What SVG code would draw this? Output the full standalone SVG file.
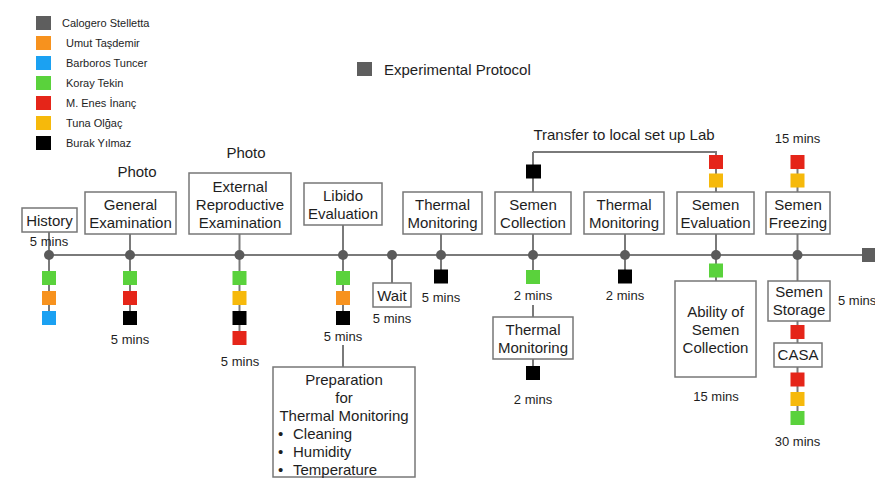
<svg xmlns="http://www.w3.org/2000/svg" width="875" height="479" viewBox="0 0 875 479">
<style>
text{font-family:"Liberation Sans",Arial,Helvetica,sans-serif;fill:#1e1e1e}
.t{font-size:15px;text-anchor:middle}
.m{font-size:13px;text-anchor:middle}
.l{font-size:11px}
.b{fill:#fff;stroke:#777;stroke-width:1.5}
.c{stroke:#7a7a7a;stroke-width:2;fill:none}
.d{fill:#5a5a5a}
.gy{fill:#5e5e5e}.or{fill:#f7921e}.bl{fill:#1ba1f2}.gr{fill:#5ad23c}.rd{fill:#e52519}.yl{fill:#f6b90b}.bk{fill:#000}
</style>
<rect width="875" height="479" fill="#fff"/>
<g id="legend">
<rect class="gy" x="36" y="16" width="15" height="14"/><text class="l" x="62" y="27">Calogero Stelletta</text>
<rect class="or" x="36" y="36" width="15" height="14"/><text class="l" x="66" y="47">Umut Taşdemir</text>
<rect class="bl" x="36" y="56" width="15" height="14"/><text class="l" x="66" y="67">Barboros Tuncer</text>
<rect class="gr" x="36" y="76" width="15" height="14"/><text class="l" x="66" y="87">Koray Tekin</text>
<rect class="rd" x="36" y="96" width="15" height="14"/><text class="l" x="66" y="107">M. Enes İnanç</text>
<rect class="yl" x="36" y="116" width="15" height="14"/><text class="l" x="66" y="127">Tuna Olğaç</text>
<rect class="bk" x="36" y="136" width="15" height="14"/><text class="l" x="66" y="147">Burak Yılmaz</text>
</g>
<g id="title">
<rect class="gy" x="357" y="62" width="15" height="14"/>
<text x="384" y="75" style="font-size:15px">Experimental Protocol</text>
</g>
<g id="connectors">
<line class="c" x1="49" y1="255" x2="862" y2="255"/>
<line class="c" x1="49" y1="232" x2="49" y2="255"/>
<line class="c" x1="49" y1="255" x2="49" y2="318"/>
<line class="c" x1="130" y1="234" x2="130" y2="318"/>
<line class="c" x1="239.5" y1="234" x2="239.5" y2="338"/>
<line class="c" x1="343" y1="225" x2="343" y2="318"/>
<line class="c" x1="343" y1="345" x2="343" y2="367"/>
<line class="c" x1="392" y1="255" x2="392" y2="283"/>
<line class="c" x1="441" y1="234" x2="441" y2="276"/>
<line class="c" x1="533" y1="152" x2="533" y2="192"/>
<polyline class="c" points="533,152 716,152 716,192"/>
<line class="c" x1="533" y1="234" x2="533" y2="276"/>
<line class="c" x1="533" y1="305" x2="533" y2="317"/>
<line class="c" x1="533" y1="359" x2="533" y2="372"/>
<line class="c" x1="625" y1="234" x2="625" y2="276"/>
<line class="c" x1="716" y1="234" x2="716" y2="281"/>
<line class="c" x1="797.5" y1="162" x2="797.5" y2="192"/>
<line class="c" x1="797.5" y1="234" x2="797.5" y2="281"/>
<line class="c" x1="797.5" y1="321" x2="797.5" y2="343"/>
<line class="c" x1="797.5" y1="367" x2="797.5" y2="418"/>
<circle class="d" cx="49" cy="255" r="5"/>
<circle class="d" cx="130" cy="255" r="5"/>
<circle class="d" cx="239.5" cy="255" r="5"/>
<circle class="d" cx="343" cy="255" r="5"/>
<circle class="d" cx="392" cy="255" r="5"/>
<circle class="d" cx="441" cy="255" r="5"/>
<circle class="d" cx="533" cy="255" r="5"/>
<circle class="d" cx="625" cy="255" r="5"/>
<circle class="d" cx="716" cy="255" r="5"/>
<circle class="d" cx="797.5" cy="255" r="5"/>
<rect class="gy" x="862" y="248" width="14" height="14"/>
</g>
<g id="history">
<rect class="b" x="22" y="208" width="55" height="24"/>
<text class="t" x="49.5" y="225.5">History</text>
<text class="m" x="49" y="245.5">5 mins</text>
<rect class="gr" x="42" y="271" width="14" height="14"/>
<rect class="or" x="42" y="291" width="14" height="14"/>
<rect class="bl" x="42" y="311" width="14" height="14"/>
</g>
<g id="general-examination">
<text class="t" x="137" y="177">Photo</text>
<rect class="b" x="85" y="192" width="91" height="42"/>
<text class="t" x="130.5" y="210">General</text>
<text class="t" x="130.5" y="227.5">Examination</text>
<rect class="gr" x="123" y="271" width="14" height="14"/>
<rect class="rd" x="123" y="291" width="14" height="14"/>
<rect class="bk" x="123" y="311" width="14" height="14"/>
<text class="m" x="130" y="343.5">5 mins</text>
</g>
<g id="external-reproductive-examination">
<text class="t" x="246" y="158">Photo</text>
<rect class="b" x="189" y="173" width="102" height="61"/>
<text class="t" x="240" y="192">External</text>
<text class="t" x="240" y="210">Reproductive</text>
<text class="t" x="240" y="227.5">Examination</text>
<rect class="gr" x="232.5" y="271" width="14" height="14"/>
<rect class="yl" x="232.5" y="291" width="14" height="14"/>
<rect class="bk" x="232.5" y="311" width="14" height="14"/>
<rect class="rd" x="232.5" y="331" width="14" height="14"/>
<text class="m" x="240" y="366">5 mins</text>
</g>
<g id="libido-evaluation">
<rect class="b" x="304" y="183" width="78" height="42"/>
<text class="t" x="343" y="201">Libido</text>
<text class="t" x="343" y="218.5">Evaluation</text>
<rect class="gr" x="336" y="271" width="14" height="14"/>
<rect class="or" x="336" y="291" width="14" height="14"/>
<rect class="bk" x="336" y="311" width="14" height="14"/>
<text class="m" x="343" y="340.5">5 mins</text>
</g>
<g id="preparation">
<rect class="b" x="273" y="367" width="142" height="110"/>
<text class="t" x="344" y="385">Preparation</text>
<text class="t" x="344" y="403">for</text>
<text class="t" x="344" y="421">Thermal Monitoring</text>
<text x="278" y="439" style="font-size:15px">•</text><text x="293" y="439" style="font-size:15px">Cleaning</text>
<text x="278" y="457" style="font-size:15px">•</text><text x="293" y="457" style="font-size:15px">Humidity</text>
<text x="278" y="474.5" style="font-size:15px">•</text><text x="293" y="474.5" style="font-size:15px">Temperature</text>
</g>
<g id="wait">
<rect class="b" x="373" y="283" width="38" height="24"/>
<text class="t" x="392" y="300.5">Wait</text>
<text class="m" x="392" y="323">5 mins</text>
</g>
<g id="thermal-monitoring-1">
<rect class="b" x="403" y="192" width="79" height="42"/>
<text class="t" x="442.5" y="210">Thermal</text>
<text class="t" x="442.5" y="227.5">Monitoring</text>
<rect class="bk" x="434" y="269.5" width="14" height="14"/>
<text class="m" x="441" y="302">5 mins</text>
</g>
<g id="semen-collection">
<text class="t" x="624" y="140">Transfer to local set up Lab</text>
<rect class="bk" x="526" y="164.5" width="15" height="14"/>
<rect class="b" x="495" y="192" width="76" height="42"/>
<text class="t" x="533" y="210">Semen</text>
<text class="t" x="533" y="227.5">Collection</text>
<rect class="gr" x="526" y="270" width="14" height="14"/>
<text class="m" x="533" y="300">2 mins</text>
</g>
<g id="thermal-monitoring-2">
<rect class="b" x="493" y="317" width="80" height="42"/>
<text class="t" x="533" y="335">Thermal</text>
<text class="t" x="533" y="352.5">Monitoring</text>
<rect class="bk" x="526" y="366" width="14" height="14"/>
<text class="m" x="533" y="403.5">2 mins</text>
</g>
<g id="thermal-monitoring-3">
<rect class="b" x="584" y="192" width="80" height="42"/>
<text class="t" x="624" y="210">Thermal</text>
<text class="t" x="624" y="227.5">Monitoring</text>
<rect class="bk" x="618" y="269.5" width="14" height="14"/>
<text class="m" x="625" y="300">2 mins</text>
</g>
<g id="semen-evaluation">
<rect class="rd" x="709" y="155" width="14" height="14"/>
<rect class="yl" x="709" y="173.5" width="14" height="14"/>
<rect class="b" x="677" y="192" width="77" height="42"/>
<text class="t" x="715.5" y="210">Semen</text>
<text class="t" x="715.5" y="227.5">Evaluation</text>
<rect class="gr" x="709" y="263.5" width="14" height="14"/>
</g>
<g id="ability">
<rect class="b" x="675" y="281" width="81" height="96"/>
<text class="t" x="715.5" y="317">Ability of</text>
<text class="t" x="715.5" y="334.5">Semen</text>
<text class="t" x="715.5" y="352.5">Collection</text>
<text class="m" x="716" y="400.5">15 mins</text>
</g>
<g id="semen-freezing">
<text class="m" x="797.5" y="143">15 mins</text>
<rect class="rd" x="790.5" y="155" width="14" height="14"/>
<rect class="yl" x="790.5" y="173.5" width="14" height="14"/>
<rect class="b" x="766" y="192" width="64" height="42"/>
<text class="t" x="798" y="210">Semen</text>
<text class="t" x="798" y="227.5">Freezing</text>
</g>
<g id="semen-storage">
<rect class="b" x="768" y="281" width="62" height="40"/>
<text class="t" x="799" y="297">Semen</text>
<text class="t" x="799" y="314.5">Storage</text>
<rect class="rd" x="790.5" y="325" width="14" height="14"/>
</g>
<g id="casa">
<rect class="b" x="774" y="343" width="48" height="24"/>
<text class="t" x="798" y="360">CASA</text>
<rect class="rd" x="790.5" y="372.5" width="14" height="14"/>
<rect class="yl" x="790.5" y="392" width="14" height="14"/>
<rect class="gr" x="790.5" y="411" width="14" height="14"/>
<text class="m" x="797.5" y="446">30 mins</text>
</g>
<g id="end">
<text class="m" x="838" y="304.5" style="text-anchor:start">5 mins</text>
</g>
</svg>
